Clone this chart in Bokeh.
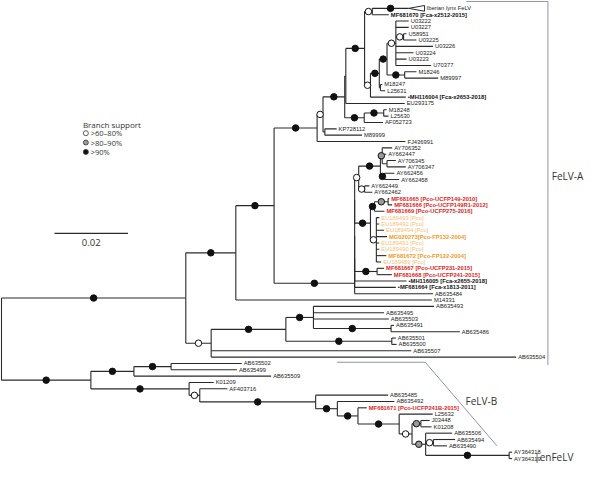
from bokeh.plotting import figure
from bokeh.models import Range1d, ColumnDataSource
from bokeh.embed import file_html
from bokeh.resources import INLINE
from bokeh.core.properties import value

# ---------------- data: tree (Newick pieces, branch lengths in subst./site, support class as node label) ----
lynx = "(IberianLynx:0.0099,MF681670:0.0045)70:0.0021"
u_clade = ("(U03222:0.0035,U03227:0.0035,(U58951:0.0008,U03225:0.0035)70:0.0021,U03226:0.0101,"
           "U03224:0.0048,U03223:0.0029,U70377:0.0096)70:0.0024")
m_pair = "(M18246:0.0032,M89997:0.0091)95:0.0048"
n398 = f"({u_clade},{m_pair})95:0.0021"
n390 = f"({n398},(M18247:0.0005,L25631:0.0013):0.0003)95:0.0024"
n380 = f"({n390},MH116004:0.0096)70:0.0016"
n375 = f"({lynx},{n380})95:0.0051"
ny = f"({n375},EU293175:0.0160):0.0003"
n375b = "((M18248:0.0008,L25630:0.0013)95:0.0053,AF052723:0.0051)95:0.0053"
n355 = f"({ny},{n375b})95:0.0059"
nx = f"({n355},(KP728112:0.0032,M89999:0.0101):0.0005)70:0.0016"
n327 = f"({nx},FJ436991:0.0240)95:0.0117"
ay_clade = ("(((AY706352:0.0027,AY662447:0.0011,(AY706345:0.0024,AY706347:0.0051):0.0013)85:0.0005,"
            "(AY662456:0.0027,AY662458:0.0040)95:0.0011)95:0.0059,(AY662449:0.0013,AY662462:0.0021)70:0.0016)70:0.0011")
pco_clade = ("(((MF681665:0.0003,MF681666:0.0011)85:0.0037,MF681669:0.0027)95:0.0011,"
             "(EU189493:0.0008,EU189492:0.0008,EU189494:0.0021,MG020273:0.0029,EU189491:0.0008,"
             "EU189490:0.0008,MF681672:0.0027,EU189489:0.0013)70:0.0016)95:0.0043")
np_clade = (f"((((({ay_clade},{pco_clade}):0,(MF681667:0.0019,MF681668:0.0040)95:0.0061):0,"
            f"MH116005:0.0141):0,MF681664:0.0112):0,AB635484:0.0213)95:0.0219")
n283 = f"({n327},{np_clade})95:0.0104"
a1 = f"({n283},M14331:0.0533)95:0.0136"
a2 = ("(((AB635493:0.0328,AB635495:0.0192,AB635503:0.0205,(AB635491:0.0008,AB635486:0.0187)95:0.0211)95:0.0075,"
      "(AB635501:0.0011,AB635500:0.0013)95:0.0288)95:0.0203,AB635507:0.0544,AB635504:0.0829)70:0.0069")
felv_a = f"({a1},{a2})95:0.0501"
b1 = "((AB635502:0.0192,AB635499:0.0179)95:0.0101,AB635509:0.0373)95:0.0117"
b_low = ("((J03448:0.0024,K01208:0.0029)85:0.0024,(AB635506:0.0072,(AB635494:0.0059,AB635490:0.0037)70:0.0021,"
         "(AY364318:0.0008,AY364319:0.0008)95:0.0227)85:0.0037)70:0.0035")
b6 = f"(L25632:0.0091,{b_low})95:0.0112"
b5 = f"(MF681671:0.0024,{b6})95:0.0056"
b4 = f"(AB635492:0.0155,{b5})95:0.0059"
b3 = f"(AB635485:0.0197,{b4})95:0.0315"
b2 = f"(K01209:0.0067,(AF403716:0.0075,{b3})70:0.0029)95:0.0267"
felv_b = f"({b1},{b2})95:0.0243"
newick = f"({felv_a},{felv_b});"

leaf_support = {"IberianLynx": 95}
collapsed_depth = {"IberianLynx": 0.0043}

display = {
    "IberianLynx": "Iberian lynx FeLV",
    "MF681670": "MF681670 [Fca-x2512-2015]",
    "MH116004": "\u2022MH116004 [Fca-x2653-2018]",
    "MF681665": "MF681665 [Pco-UCFP149-2010]",
    "MF681666": "MF681666 [Pco-UCFP149R1-2012]",
    "MF681669": "MF681669 [Pco-UCFP275-2016]",
    "EU189493": "EU189493 [Pco]",
    "EU189492": "EU189492 [Pco]",
    "EU189494": "EU189494 [Pco]",
    "MG020273": "MG020273[Pco-FP132-2004]",
    "EU189491": "EU189491 [Pco]",
    "EU189490": "EU189490 [Pco]",
    "MF681672": "MF681672 [Pco-FP122-2004]",
    "EU189489": "EU189489 [Pco]",
    "MF681667": "MF681667 [Pco-UCFP231-2015]",
    "MF681668": "MF681668 [Pco-UCFP241-2015]",
    "MH116005": "\u2022MH116005 [Fca-x2655-2018]",
    "MF681664": "\u2022MF681664 [Fca-x1813-2011]",
    "MF681671": "MF681671 [Pco-UCFP241B-2015]",
}
red_ids = ["MF681665", "MF681666", "MF681669", "MF681667", "MF681668", "MF681671"]
orange_ids = ["MG020273", "MF681672"]
pale_ids = ["EU189493", "EU189492", "EU189494", "EU189491", "EU189490", "EU189489"]
bold_ids = ["MF681670", "MH116004", "MH116005", "MF681664"]

support_classes = [70, 85, 95]
support_labels = [">60\u201380%", ">80\u201390%", ">90%"]
support_fill = ["white", "#9a9a9a", "#111111"]

scale_value = 0.02

# ---------------- parse & layout ----------------
def parse_newick(s):
    s = "".join(s.split())
    pos = 0

    def node():
        nonlocal pos
        n = {"children": [], "name": "", "len": 0.0}
        if s[pos] == "(":
            pos += 1
            while True:
                n["children"].append(node())
                if s[pos] == ",":
                    pos += 1
                    continue
                if s[pos] == ")":
                    pos += 1
                    break
        st = pos
        while pos < len(s) and s[pos] not in ":,();":
            pos += 1
        n["name"] = s[st:pos]
        if pos < len(s) and s[pos] == ":":
            pos += 1
            st = pos
            while s[pos] not in ",();":
                pos += 1
            n["len"] = float(s[st:pos])
        return n
    return node()


root = parse_newick(newick)
leaves = []
allnodes = []


def layout(n, x0, parent):
    n["x"] = x0 + n["len"]
    n["parent"] = parent
    allnodes.append(n)
    if n["children"]:
        for c in n["children"]:
            layout(c, n["x"], n)
        n["y"] = (n["children"][0]["y"] + n["children"][-1]["y"]) / 2.0
    else:
        n["y"] = float(len(leaves))
        leaves.append(n)


layout(root, 0.0, None)

# reference-pixel helpers (for placing annotations only)
PXX = scale_value / 75.0
PXY = 1 / 6.45


def X(px):
    return (px - 5) * PXX


def Y(py):
    return (py - 10) * PXY


p = figure(width=584, height=463, x_range=Range1d(X(4), X(599.3)), y_range=Range1d(Y(473), Y(2)),
           output_backend="svg", toolbar_location=None, min_border=0,
           x_axis_location=None, y_axis_location=None)
p.grid.visible = False
p.outline_line_color = None
p.background_fill_color = "white"

LINE = "#2a2a2a"
hx0, hx1, hy = [], [], []
vx, vy0, vy1 = [], [], []
for n in allnodes:
    if n["parent"] is not None:
        hx0.append(n["parent"]["x"]); hx1.append(n["x"]); hy.append(n["y"])
    if n["children"]:
        vx.append(n["x"]); vy0.append(n["children"][0]["y"]); vy1.append(n["children"][-1]["y"])
p.segment(x0=hx0, x1=hx1, y0=hy, y1=hy, line_color=LINE, line_width=1.1)
p.segment(x0=vx, x1=vx, y0=vy0, y1=vy1, line_color=LINE, line_width=1.1)

# collapsed clade triangle
for n in leaves:
    if n["name"] in collapsed_depth:
        d = collapsed_depth[n["name"]]
        p.patch([n["x"], n["x"] + d, n["x"] + d], [n["y"], n["y"] - 0.45, n["y"] + 0.45],
                fill_color="white", line_color=LINE, line_width=1)

# support markers
for cls, fill in zip(support_classes, support_fill):
    mx, my = [], []
    for n in allnodes:
        if n["parent"] is None:
            continue
        sup = None
        if n["children"] and n["name"]:
            sup = int(float(n["name"]))
        elif not n["children"]:
            sup = leaf_support.get(n["name"])
        if sup == cls:
            mx.append((n["parent"]["x"] + n["x"]) / 2); my.append(n["y"])
    p.scatter(mx, my, marker="circle", size=6.5, fill_color=fill, line_color="#111111", line_width=1)

# tip labels (one source, vectorised colour / weight)
TIPFONT = value("Liberation Sans")
lx, ly, lt, lc, ls = [], [], [], [], []
for n in leaves:
    nm = n["name"]
    lx.append(n["x"] + collapsed_depth.get(nm, 0.0))
    ly.append(n["y"])
    lt.append(display.get(nm, nm))
    if nm in red_ids:
        lc.append("#e2231a"); ls.append("bold")
    elif nm in orange_ids:
        lc.append("#f39a1e"); ls.append("bold")
    elif nm in pale_ids:
        lc.append("#f7c078"); ls.append("normal")
    elif nm in bold_ids:
        lc.append("#111111"); ls.append("bold")
    else:
        lc.append("#222222"); ls.append("normal")
src = ColumnDataSource(dict(x=lx, y=ly, t=lt, c=lc, s=ls))
p.text("x", "y", text="t", text_color="c", text_font_style="s", source=src, x_offset=2,
       text_font=TIPFONT, text_font_size="5.8px", text_baseline="middle", text_align="left")

# ---------------- annotations ----------------
FONT = value("Open Sans")
p.text([X(88)], [Y(128)], text=["Branch support"], text_font=FONT, text_font_size="8px",
       text_color="#333333", text_baseline="middle")
for i, (lab, fill) in enumerate(zip(support_labels, support_fill)):
    yy = Y(137 + i * 9.5)
    p.scatter([X(91)], [yy], marker="circle", size=5, fill_color=fill, line_color="#333333", line_width=0.8)
    p.text([X(96)], [yy], text=[lab], text_font=FONT, text_font_size="7.5px",
           text_color="#333333", text_baseline="middle")

# scale bar
p.segment(x0=[X(59)], x1=[X(59) + scale_value], y0=[Y(239)], y1=[Y(239)], line_color=LINE, line_width=1.2)
p.text([X(59) + scale_value / 2], [Y(248)], text=[f"{scale_value:g}"], text_font=FONT, text_font_size="9.5px",
       text_color="#333333", text_align="center", text_baseline="middle")

BR = "#8f93ab"
p.line([X(479), X(562), X(562)], [Y(3), Y(3), Y(373)], line_color=BR, line_width=1)
p.text([X(566)], [Y(181)], text=["FeLV-A"], text_font=FONT, text_font_size="10px",
       text_color="#333333", text_baseline="middle")
p.line([X(347), X(437), X(510)], [Y(370), Y(370), Y(455)], line_color=BR, line_width=1)
p.text([X(478)], [Y(409)], text=["FeLV-B"], text_font=FONT, text_font_size="10px",
       text_color="#333333", text_baseline="middle")
p.text([X(548)], [Y(466)], text=["|enFeLV"], text_font=FONT, text_font_size="10px",
       text_color="#333333", text_baseline="middle")

open("out.html", "w").write(file_html(p, INLINE))
